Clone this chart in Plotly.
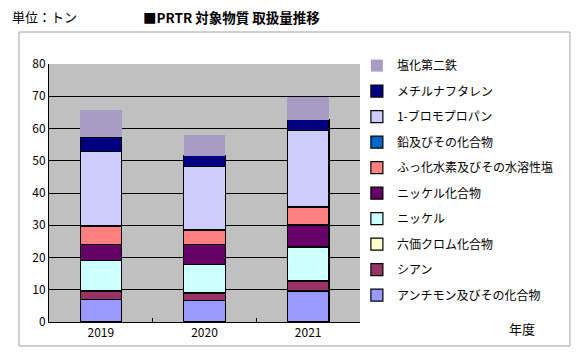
import plotly.graph_objects as go

years = ["2019", "2020", "2021"]

series_names = [
    "アンチモン及びその化合物",
    "シアン",
    "六価クロム化合物",
    "ニッケル",
    "ニッケル化合物",
    "ふっ化水素及びその水溶性塩",
    "鉛及びその化合物",
    "1-ブロモプロパン",
    "メチルナフタレン",
    "塩化第二鉄",
]

antimony = [7.1, 6.7, 9.6]
cyanide = [2.5, 2.3, 3.1]
chromium6 = [0.05, 0.05, 0.05]
nickel = [9.5, 8.7, 10.5]
nickel_comp = [4.8, 6.2, 6.8]
hf = [5.8, 4.6, 5.6]
lead = [0.2, 0.05, 0.05]
bromopropane = [22.8, 19.7, 23.8]
methylnaph = [4.5, 3.3, 3.2]
ferric = [8.4, 6.5, 7.0]

values = [antimony, cyanide, chromium6, nickel, nickel_comp, hf, lead,
          bromopropane, methylnaph, ferric]
colors = ["#9999FF", "#993366", "#FFFFCC", "#CCFFFF", "#660066", "#FF8080",
          "#0066CC", "#CCCCFF", "#000080", "#A89CC4"]

fig = go.Figure()
n = len(series_names)
for i, (name, vals, col) in enumerate(zip(series_names, values, colors)):
    line_w = 0 if name == "塩化第二鉄" else 1.2
    fig.add_trace(go.Bar(
        x=years, y=vals, name=name,
        marker=dict(color=col, line=dict(color="black", width=line_w)),
        legendgroup=f"g{i}",
        legendrank=100 + (n - i),
    ))

fig.update_layout(
    barmode="stack",
    bargap=0.6,
    width=581, height=353,
    margin=dict(l=49, r=221, t=64, b=31),
    paper_bgcolor="white",
    plot_bgcolor="#C0C0C0",
    font=dict(family="Noto Sans CJK JP", size=12, color="black"),
    showlegend=True,
    legend=dict(
        traceorder="grouped",
        tracegroupgap=6.5,
        x=0.99, y=1.05, xanchor="left", yanchor="top",
        bgcolor="rgba(0,0,0,0)",
        font=dict(size=12),
        itemwidth=30,
        maxheight=345,
    ),
    xaxis=dict(
        showgrid=False, ticks="inside", ticklen=4, tickcolor="black",
        tickson="boundaries", showline=True, linecolor="black", linewidth=1,
        tickfont=dict(size=12),
    ),
    yaxis=dict(
        range=[0, 80], dtick=10, showgrid=True, gridcolor="black", gridwidth=1,
        showline=True, linecolor="black", linewidth=1, ticks="",
        tickfont=dict(size=12), zeroline=False,
    ),
)

# outer chart frame
fig.add_shape(type="rect", xref="paper", yref="paper",
              x0=-0.0965, x1=1.675, y0=-0.093, y1=1.124,
              line=dict(color="#A0A0A0", width=1), fillcolor="rgba(0,0,0,0)",
              layer="below")

fig.add_annotation(text="単位：トン", xref="paper", yref="paper",
                   x=(10 - 49) / 311, y=(322 - 17) / 258,
                   xanchor="left", yanchor="middle", showarrow=False,
                   font=dict(size=13))
fig.add_annotation(text="<b>■PRTR 対象物質 取扱量推移</b>", xref="paper", yref="paper",
                   x=(141 - 49) / 311, y=(322 - 17) / 258,
                   xanchor="left", yanchor="middle", showarrow=False,
                   font=dict(size=13.5))
fig.add_annotation(text="年度", xref="paper", yref="paper",
                   x=(522 - 49) / 311, y=(322 - 328) / 258,
                   xanchor="center", yanchor="middle", showarrow=False,
                   font=dict(size=13))

fig.write_html("out.html")
